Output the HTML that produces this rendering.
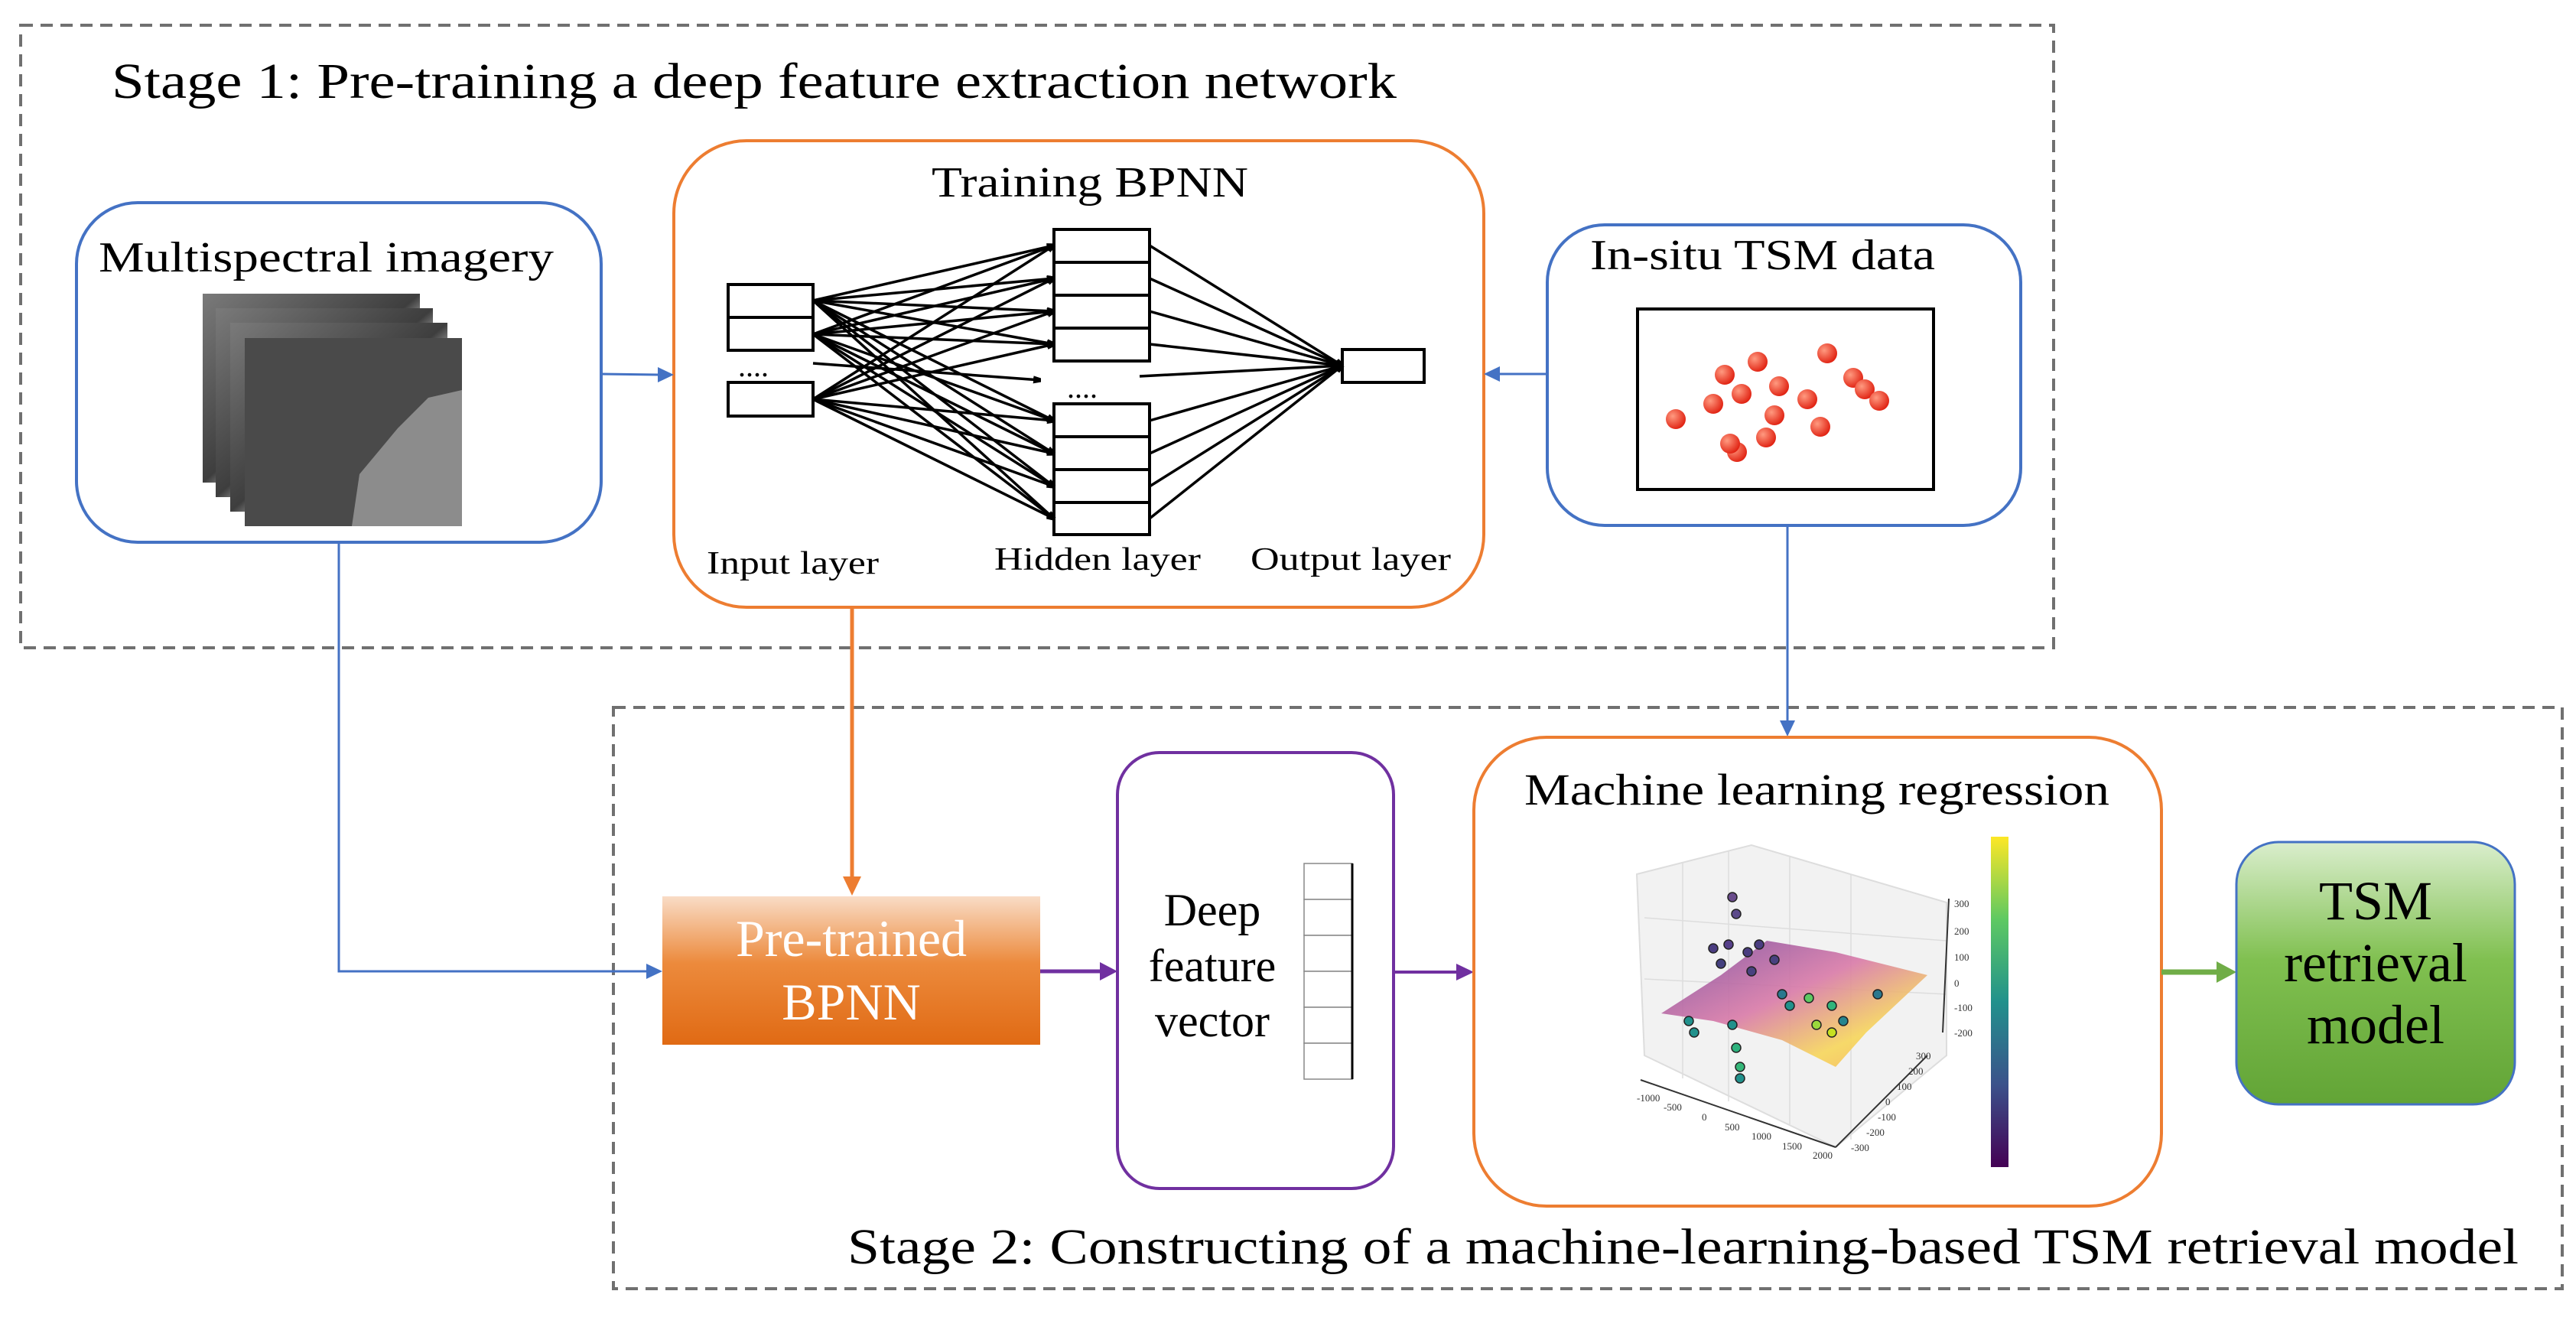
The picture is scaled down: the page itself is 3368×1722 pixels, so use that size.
<!DOCTYPE html>
<html><head><meta charset="utf-8"><style>
html,body{margin:0;padding:0;background:#fff;}
body{width:3368px;height:1717px;overflow:hidden;}
svg text{font-family:"Liberation Serif",serif;}
</style></head><body>
<svg width="3368" height="1717" viewBox="0 0 3368 1717" xmlns="http://www.w3.org/2000/svg">
<defs>
<linearGradient id="og" x1="0" y1="0" x2="0" y2="1"><stop offset="0" stop-color="#f9dcc6"/><stop offset="0.45" stop-color="#ec8a3c"/><stop offset="1" stop-color="#e06a14"/></linearGradient>
<linearGradient id="gg" x1="0" y1="0" x2="0" y2="1"><stop offset="0" stop-color="#daeecd"/><stop offset="0.45" stop-color="#80c050"/><stop offset="1" stop-color="#62a436"/></linearGradient>
<linearGradient id="vir" x1="0" y1="1" x2="0" y2="0"><stop offset="0" stop-color="#440154"/><stop offset="0.25" stop-color="#3b528b"/><stop offset="0.5" stop-color="#21918c"/><stop offset="0.75" stop-color="#5ec962"/><stop offset="1" stop-color="#fde725"/></linearGradient>
<linearGradient id="surf" x1="0" y1="0" x2="1" y2="1"><stop offset="0" stop-color="#7a4a9e"/><stop offset="0.45" stop-color="#d97aa8"/><stop offset="0.75" stop-color="#f7d65a"/><stop offset="1" stop-color="#f3a95a"/></linearGradient>
<linearGradient id="img" x1="0" y1="0" x2="1" y2="1"><stop offset="0" stop-color="#7a7a7a"/><stop offset="0.5" stop-color="#3e3e3e"/><stop offset="0.55" stop-color="#7e7e7e"/><stop offset="1" stop-color="#8a8a8a"/></linearGradient>
<radialGradient id="rd" cx="0.35" cy="0.35" r="0.7"><stop offset="0" stop-color="#ff9a80"/><stop offset="1" stop-color="#e02010"/></radialGradient>
<marker id="ak" markerWidth="10" markerHeight="10" refX="9" refY="5" orient="auto" markerUnits="userSpaceOnUse"><path d="M0,0 L20,5 L0,10 z" fill="#000"/></marker>
</defs>

<rect x="27" y="33" width="2658" height="814" fill="none" stroke="#707070" stroke-width="4" stroke-dasharray="16,10"/>
<rect x="802" y="925" width="2548" height="760" fill="none" stroke="#707070" stroke-width="4" stroke-dasharray="16,10"/>
<text x="146" y="128" font-size="66" textLength="1680" lengthAdjust="spacingAndGlyphs">Stage 1:  Pre-training a deep feature extraction network</text>
<text x="1108" y="1652" font-size="66" textLength="2185" lengthAdjust="spacingAndGlyphs">Stage 2:  Constructing of a machine-learning-based TSM retrieval model</text>

<rect x="100" y="265" width="686" height="444" rx="80" fill="#fff" stroke="#4472c4" stroke-width="4"/>
<text x="129" y="355" font-size="56" textLength="595" lengthAdjust="spacingAndGlyphs">Multispectral imagery</text>
<rect x="265" y="384" width="284" height="247" fill="url(#img)"/>
<rect x="282" y="403" width="284" height="247" fill="url(#img)"/>
<rect x="301" y="422" width="284" height="247" fill="url(#img)"/>
<rect x="320" y="442" width="284" height="246" fill="#4a4a4a"/>
<path d="M460,688 L470,620 L520,560 L560,520 L604,510 L604,688 Z" fill="#8c8c8c"/>

<rect x="881" y="184" width="1059" height="610" rx="95" fill="#fff" stroke="#ed7d31" stroke-width="4"/>
<text x="1218" y="257" font-size="56" textLength="414" lengthAdjust="spacingAndGlyphs">Training BPNN</text>
<g fill="#fff" stroke="#000" stroke-width="4">
<rect x="952" y="372" width="111" height="43"/><rect x="952" y="415" width="111" height="43"/>
<rect x="952" y="500" width="111" height="44"/>
<rect x="1378" y="300" width="125" height="43"/><rect x="1378" y="343" width="125" height="43"/><rect x="1378" y="386" width="125" height="43"/><rect x="1378" y="429" width="125" height="43"/>
<rect x="1378" y="528" width="125" height="43"/><rect x="1378" y="571" width="125" height="43"/><rect x="1378" y="614" width="125" height="43"/><rect x="1378" y="657" width="125" height="42"/>
<rect x="1755" y="457" width="107" height="43"/>
</g>
<text x="965" y="492" font-size="40">....</text>
<text x="1395" y="520" font-size="40">....</text>
<g stroke="#000" stroke-width="3.5" marker-end="url(#ak)">
<line x1="1063" y1="393" x2="1378" y2="321"/><line x1="1063" y1="393" x2="1378" y2="364"/><line x1="1063" y1="393" x2="1378" y2="407"/><line x1="1063" y1="393" x2="1378" y2="450"/><line x1="1063" y1="393" x2="1378" y2="550"/><line x1="1063" y1="393" x2="1378" y2="593"/><line x1="1063" y1="393" x2="1378" y2="636"/><line x1="1063" y1="393" x2="1378" y2="678"/>
<line x1="1063" y1="437" x2="1378" y2="321"/><line x1="1063" y1="437" x2="1378" y2="364"/><line x1="1063" y1="437" x2="1378" y2="407"/><line x1="1063" y1="437" x2="1378" y2="450"/><line x1="1063" y1="437" x2="1378" y2="550"/><line x1="1063" y1="437" x2="1378" y2="593"/><line x1="1063" y1="437" x2="1378" y2="636"/><line x1="1063" y1="437" x2="1378" y2="678"/>
<line x1="1063" y1="522" x2="1378" y2="321"/><line x1="1063" y1="522" x2="1378" y2="364"/><line x1="1063" y1="522" x2="1378" y2="407"/><line x1="1063" y1="522" x2="1378" y2="450"/><line x1="1063" y1="522" x2="1378" y2="550"/><line x1="1063" y1="522" x2="1378" y2="593"/><line x1="1063" y1="522" x2="1378" y2="636"/><line x1="1063" y1="522" x2="1378" y2="678"/>
<line x1="1063" y1="475" x2="1360" y2="497"/>
<line x1="1503" y1="321" x2="1755" y2="478"/><line x1="1503" y1="364" x2="1755" y2="478"/><line x1="1503" y1="407" x2="1755" y2="478"/><line x1="1503" y1="450" x2="1755" y2="478"/><line x1="1490" y1="492" x2="1755" y2="478"/><line x1="1503" y1="550" x2="1755" y2="478"/><line x1="1503" y1="593" x2="1755" y2="478"/><line x1="1503" y1="636" x2="1755" y2="478"/><line x1="1503" y1="678" x2="1755" y2="478"/>
</g>
<text x="924" y="750" font-size="42" textLength="225" lengthAdjust="spacingAndGlyphs">Input layer</text>
<text x="1300" y="745" font-size="42" textLength="270" lengthAdjust="spacingAndGlyphs">Hidden layer</text>
<text x="1635" y="745" font-size="42" textLength="262" lengthAdjust="spacingAndGlyphs">Output layer</text>

<rect x="2023" y="294" width="619" height="393" rx="75" fill="#fff" stroke="#4472c4" stroke-width="4"/>
<text x="2079" y="352" font-size="56" textLength="451" lengthAdjust="spacingAndGlyphs">In-situ TSM data</text>
<rect x="2141" y="404" width="387" height="236" fill="#fff" stroke="#000" stroke-width="4"/>
<g fill="url(#rd)">
<circle cx="2191" cy="548" r="13"/><circle cx="2240" cy="528" r="13"/><circle cx="2255" cy="490" r="13"/><circle cx="2298" cy="473" r="13"/><circle cx="2277" cy="515" r="13"/><circle cx="2326" cy="505" r="13"/><circle cx="2320" cy="543" r="13"/><circle cx="2363" cy="522" r="13"/><circle cx="2389" cy="462" r="13"/><circle cx="2423" cy="494" r="13"/><circle cx="2438" cy="509" r="13"/><circle cx="2457" cy="524" r="13"/><circle cx="2380" cy="558" r="13"/><circle cx="2309" cy="572" r="13"/><circle cx="2271" cy="591" r="13"/><circle cx="2262" cy="580" r="13"/>
</g>

<line x1="786" y1="489" x2="862" y2="490" stroke="#4472c4" stroke-width="3"/><path d="M881,490 L860,480 L860,500 Z" fill="#4472c4"/>
<line x1="2023" y1="489" x2="1960" y2="489" stroke="#4472c4" stroke-width="3"/><path d="M1940,489 L1961,479 L1961,499 Z" fill="#4472c4"/>
<polyline points="443,709 443,1270 846,1270" fill="none" stroke="#4472c4" stroke-width="3"/><path d="M866,1270 L845,1260 L845,1280 Z" fill="#4472c4"/>
<line x1="1114" y1="794" x2="1114" y2="1148" stroke="#ed7d31" stroke-width="5"/><path d="M1114,1171 L1102,1146 L1126,1146 Z" fill="#ed7d31"/>
<line x1="2337" y1="687" x2="2337" y2="944" stroke="#4472c4" stroke-width="3"/><path d="M2337,963 L2327,942 L2347,942 Z" fill="#4472c4"/>

<rect x="866" y="1172" width="494" height="194" fill="url(#og)"/>
<text x="1113" y="1250" font-size="68" fill="#fff" text-anchor="middle">Pre-trained</text>
<text x="1113" y="1333" font-size="68" fill="#fff" text-anchor="middle">BPNN</text>
<line x1="1360" y1="1270" x2="1440" y2="1270" stroke="#7030a0" stroke-width="5"/><path d="M1461,1270 L1438,1258 L1438,1282 Z" fill="#7030a0"/>

<rect x="1461" y="984" width="361" height="570" rx="55" fill="#fff" stroke="#7030a0" stroke-width="4"/>
<text x="1585" y="1210" font-size="60" text-anchor="middle">Deep</text>
<text x="1585" y="1283" font-size="60" text-anchor="middle">feature</text>
<text x="1585" y="1355" font-size="60" text-anchor="middle">vector</text>
<g fill="#fff" stroke="#888" stroke-width="1.5">
<rect x="1705" y="1129" width="63" height="47"/><rect x="1705" y="1176" width="63" height="47"/><rect x="1705" y="1223" width="63" height="47"/><rect x="1705" y="1270" width="63" height="47"/><rect x="1705" y="1317" width="63" height="47"/><rect x="1705" y="1364" width="63" height="47"/>
</g>
<line x1="1768" y1="1129" x2="1768" y2="1411" stroke="#000" stroke-width="3"/>
<line x1="1822" y1="1271" x2="1904" y2="1271" stroke="#7030a0" stroke-width="4"/><path d="M1927,1271 L1904,1260 L1904,1282 Z" fill="#7030a0"/>

<rect x="1927" y="964" width="899" height="613" rx="95" fill="#fff" stroke="#ed7d31" stroke-width="4"/>
<text x="1993" y="1052" font-size="58" textLength="765" lengthAdjust="spacingAndGlyphs">Machine learning regression</text>
<polygon points="2140,1143 2290,1105 2545,1180 2545,1380 2400,1500 2150,1380" fill="#f2f2f2" stroke="#ddd" stroke-width="2"/>
<g stroke="#ddd" stroke-width="1.5"><line x1="2200" y1="1127" x2="2200" y2="1410"/><line x1="2260" y1="1112" x2="2260" y2="1440"/><line x1="2340" y1="1120" x2="2340" y2="1470"/><line x1="2420" y1="1143" x2="2420" y2="1490"/><line x1="2150" y1="1200" x2="2545" y2="1230"/><line x1="2150" y1="1280" x2="2545" y2="1300"/></g>
<polygon points="2172,1325 2250,1275 2310,1230 2400,1245 2500,1270 2520,1275 2440,1350 2400,1395 2330,1360 2240,1335" fill="url(#surf)" opacity="0.9"/>
<g stroke="#222" stroke-width="1.5">
<circle cx="2265" cy="1173" r="6" fill="#6a4c8c"/><circle cx="2270" cy="1195" r="6" fill="#5c4a8a"/><circle cx="2260" cy="1235" r="6" fill="#56408a"/><circle cx="2240" cy="1240" r="6" fill="#4a3d80"/><circle cx="2285" cy="1245" r="6" fill="#4a3d80"/><circle cx="2300" cy="1235" r="6" fill="#4a3d80"/><circle cx="2250" cy="1260" r="6" fill="#44407f"/><circle cx="2290" cy="1270" r="6" fill="#48417f"/><circle cx="2320" cy="1255" r="6" fill="#48417f"/>
<circle cx="2330" cy="1300" r="6" fill="#2a788e"/><circle cx="2340" cy="1315" r="6" fill="#21918c"/><circle cx="2365" cy="1305" r="6" fill="#5ec962"/><circle cx="2395" cy="1315" r="6" fill="#31b57b"/><circle cx="2410" cy="1335" r="6" fill="#25858e"/><circle cx="2455" cy="1300" r="6" fill="#2a788e"/><circle cx="2375" cy="1340" r="6" fill="#9bd93c"/><circle cx="2395" cy="1350" r="6" fill="#c5e021"/>
<circle cx="2208" cy="1335" r="6" fill="#21918c"/><circle cx="2215" cy="1350" r="6" fill="#21918c"/><circle cx="2265" cy="1340" r="6" fill="#21918c"/><circle cx="2270" cy="1370" r="6" fill="#2db27d"/><circle cx="2275" cy="1395" r="6" fill="#35b779"/><circle cx="2275" cy="1410" r="6" fill="#21918c"/>
</g>
<g stroke="#333" stroke-width="2"><line x1="2145" y1="1412" x2="2400" y2="1500"/><line x1="2400" y1="1500" x2="2520" y2="1380"/><line x1="2548" y1="1175" x2="2540" y2="1350"/></g>
<g font-family="Liberation Sans,sans-serif" font-size="13" fill="#333">
<text x="2140" y="1440">-1000</text><text x="2175" y="1452">-500</text><text x="2225" y="1465">0</text><text x="2255" y="1478">500</text><text x="2290" y="1490">1000</text><text x="2330" y="1503">1500</text><text x="2370" y="1515">2000</text>
<text x="2555" y="1186">300</text><text x="2555" y="1222">200</text><text x="2555" y="1256">100</text><text x="2555" y="1290">0</text><text x="2555" y="1322">-100</text><text x="2555" y="1355">-200</text>
<text x="2505" y="1385">300</text><text x="2495" y="1405">200</text><text x="2480" y="1425">100</text><text x="2465" y="1445">0</text><text x="2455" y="1465">-100</text><text x="2440" y="1485">-200</text><text x="2420" y="1505">-300</text>
</g>
<rect x="2603" y="1094" width="23" height="432" fill="url(#vir)"/>

<line x1="2826" y1="1271" x2="2898" y2="1271" stroke="#70ad47" stroke-width="7"/><path d="M2924,1271 L2898,1257 L2898,1285 Z" fill="#70ad47"/>
<rect x="2924" y="1101" width="364" height="343" rx="55" fill="url(#gg)" stroke="#4472c4" stroke-width="3"/>
<text x="3106" y="1202" font-size="72" text-anchor="middle">TSM</text>
<text x="3106" y="1283" font-size="72" text-anchor="middle">retrieval</text>
<text x="3106" y="1364" font-size="72" text-anchor="middle">model</text>
</svg>
</body></html>
